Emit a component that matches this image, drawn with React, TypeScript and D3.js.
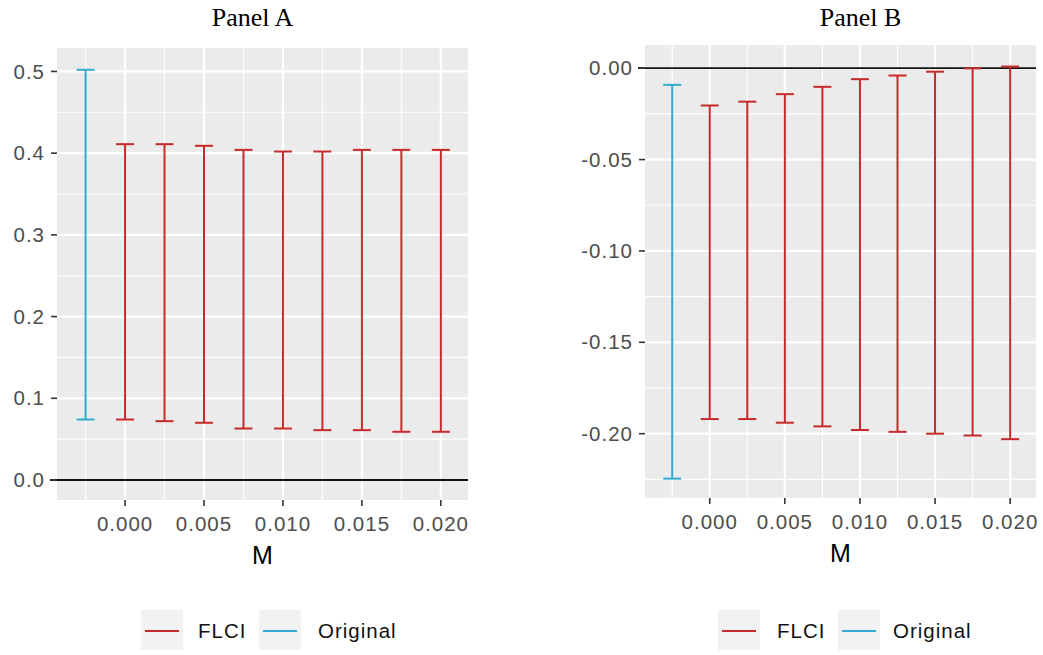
import React from "react";
import * as d3 from "d3";

// ---------- data ----------
const mValues = [0, 0.0025, 0.005, 0.0075, 0.01, 0.0125, 0.015, 0.0175, 0.02];
const originalM = -0.0025;

const flciUpperA = [0.411, 0.411, 0.409, 0.404, 0.402, 0.402, 0.404, 0.404, 0.404];
const flciLowerA = [0.074, 0.072, 0.070, 0.063, 0.063, 0.061, 0.061, 0.059, 0.059];
const originalA = { lower: 0.074, upper: 0.502 };

const flciUpperB = [-0.0204, -0.0183, -0.0142, -0.0102, -0.006, -0.004, -0.0019, -0.0001, 0.0009];
const flciLowerB = [-0.192, -0.192, -0.194, -0.196, -0.198, -0.199, -0.2, -0.201, -0.203];
const originalB = { lower: -0.2246, upper: -0.0091 };

const xTicks = [0, 0.005, 0.01, 0.015, 0.02];
const xMinor = [-0.0025, 0.0025, 0.0075, 0.0125, 0.0175];
const yTicksA = [0, 0.1, 0.2, 0.3, 0.4, 0.5];
const yMinorA = [0.05, 0.15, 0.25, 0.35, 0.45];
const yTicksB = [0, -0.05, -0.1, -0.15, -0.2];
const yMinorB = [-0.025, -0.075, -0.125, -0.175, -0.225];

const legendLabels = ["FLCI", "Original"];

const RED = "#C62A2A";
const BLUE = "#35AAD0";
const SANS = "'Liberation Sans', Arial, sans-serif";

type PanelProps = {
  title: string;
  titleX: number;
  box: { x0: number; x1: number; y0: number; y1: number };
  yDomain: [number, number];
  yTicks: number[];
  yMinor: number[];
  yFmt: (v: number) => string;
  upper: number[];
  lower: number[];
  original: { lower: number; upper: number };
  legendX: number[];
};

function Panel(p: PanelProps) {
  const { box } = p;
  const x = d3.scaleLinear().domain([-0.00431, 0.02172]).range([box.x0, box.x1]);
  const y = d3.scaleLinear().domain(p.yDomain).range([box.y1, box.y0]);
  const cap = 9;
  const bars = mValues.map((m, i) => ({ m, lo: p.lower[i], hi: p.upper[i], c: RED }));
  bars.unshift({ m: originalM, lo: p.original.lower, hi: p.original.upper, c: BLUE });
  const xFmt = d3.format(".3f");
  const cx = (box.x0 + box.x1) / 2;
  return (
    <g>
      <text x={p.titleX} y={26} textAnchor="middle" fontFamily="'Liberation Serif', 'Times New Roman', serif" fontSize={26} fill="#000">
        {p.title}
      </text>
      <rect x={box.x0} y={box.y0} width={box.x1 - box.x0} height={box.y1 - box.y0} fill="#EBEBEB" />
      {p.yMinor.map((v) => (
        <line key={"ym" + v} x1={box.x0} x2={box.x1} y1={y(v)} y2={y(v)} stroke="#fff" strokeWidth={1.1} />
      ))}
      {xMinor.map((v) => (
        <line key={"xm" + v} x1={x(v)} x2={x(v)} y1={box.y0} y2={box.y1} stroke="#fff" strokeWidth={1.1} />
      ))}
      {p.yTicks.map((v) => (
        <line key={"yM" + v} x1={box.x0} x2={box.x1} y1={y(v)} y2={y(v)} stroke="#fff" strokeWidth={2.2} />
      ))}
      {xTicks.map((v) => (
        <line key={"xM" + v} x1={x(v)} x2={x(v)} y1={box.y0} y2={box.y1} stroke="#fff" strokeWidth={2.2} />
      ))}
      {/* zero line */}
      <line x1={box.x0 - 7} x2={box.x1} y1={y(0)} y2={y(0)} stroke="#111" strokeWidth={1.8} />
      {bars.map((b, i) => (
        <g key={"b" + i} stroke={b.c} strokeWidth={2} fill="none">
          <line x1={x(b.m)} x2={x(b.m)} y1={y(b.lo)} y2={y(b.hi)} />
          <line x1={x(b.m) - cap} x2={x(b.m) + cap} y1={y(b.lo)} y2={y(b.lo)} />
          <line x1={x(b.m) - cap} x2={x(b.m) + cap} y1={y(b.hi)} y2={y(b.hi)} />
        </g>
      ))}
      {/* y axis */}
      {p.yTicks.map((v) => (
        <g key={"yt" + v}>
          <line x1={box.x0 - 6} x2={box.x0} y1={y(v)} y2={y(v)} stroke="#333" strokeWidth={1.6} />
          <text x={box.x0 - 12} y={y(v)} dy="0.35em" textAnchor="end" fontFamily={SANS} fontSize={20.5} letterSpacing={1} fill="#4D4D4D">
            {p.yFmt(v)}
          </text>
        </g>
      ))}
      {/* x axis */}
      {xTicks.map((v) => (
        <g key={"xt" + v}>
          <line x1={x(v)} x2={x(v)} y1={box.y1} y2={box.y1 + 6} stroke="#333" strokeWidth={1.6} />
          <text x={x(v)} y={box.y1 + 31} textAnchor="middle" fontFamily={SANS} fontSize={20.5} letterSpacing={1} fill="#4D4D4D">
            {xFmt(v)}
          </text>
        </g>
      ))}
      <text x={cx} y={box.y1 + 64} textAnchor="middle" fontFamily={SANS} fontSize={25} fill="#000">
        M
      </text>
      {/* legend */}
      {legendLabels.map((lab, i) => {
        const kx = p.legendX[i * 2];
        const tx = p.legendX[i * 2 + 1];
        const col = i === 0 ? RED : BLUE;
        return (
          <g key={"lg" + lab}>
            <rect x={kx} y={610} width={42} height={40} fill="#F2F2F2" />
            <line x1={kx + 4} x2={kx + 38} y1={631} y2={631} stroke={col} strokeWidth={2} />
            <text x={tx} y={631} dy="0.35em" fontFamily={SANS} fontSize={20.5} letterSpacing={1} fill="#111">
              {lab}
            </text>
          </g>
        );
      })}
    </g>
  );
}

export default function App() {
  const fmtA = d3.format(".1f");
  const fmtB = (v: number) => d3.format(".2f")(v).replace("−", "-");
  return (
    <svg width={1043} height={655} style={{ position: "absolute", left: 0, top: 0, background: "#fff" }}>
      <rect x={0} y={0} width={1043} height={655} fill="#fff" />
      <Panel
        title="Panel A"
        titleX={252.5}
        box={{ x0: 57, x1: 468, y0: 48, y1: 500 }}
        yDomain={[-0.0245, 0.5287]}
        yTicks={yTicksA}
        yMinor={yMinorA}
        yFmt={fmtA}
        upper={flciUpperA}
        lower={flciLowerA}
        original={originalA}
        legendX={[141, 198, 259, 318]}
      />
      <Panel
        title="Panel B"
        titleX={860.5}
        box={{ x0: 645, x1: 1036, y0: 45, y1: 498 }}
        yDomain={[-0.2352, 0.0127]}
        yTicks={yTicksB}
        yMinor={yMinorB}
        yFmt={fmtB}
        upper={flciUpperB}
        lower={flciLowerB}
        original={originalB}
        legendX={[718, 777, 838, 893]}
      />
    </svg>
  );
}
